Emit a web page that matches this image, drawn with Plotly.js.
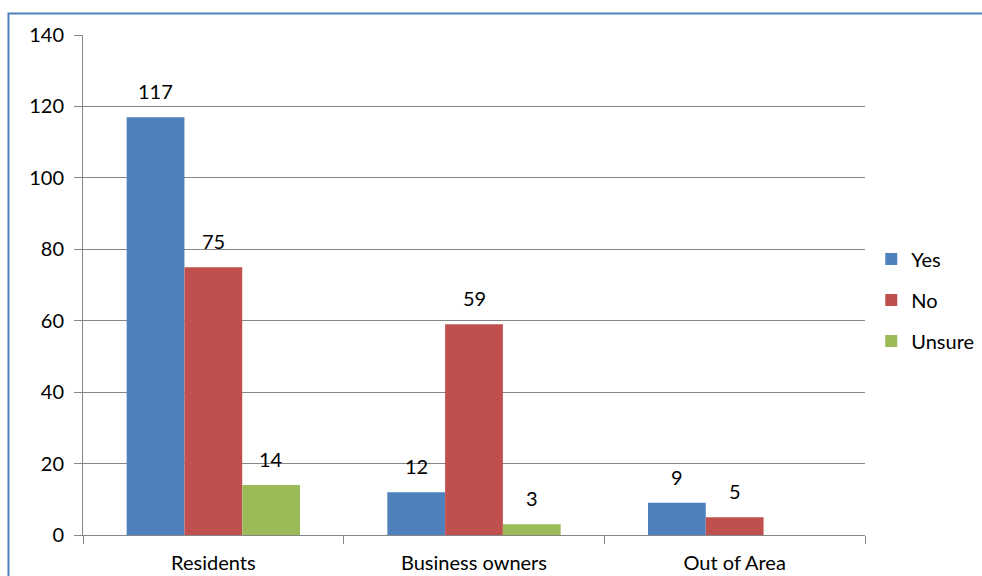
<!DOCTYPE html>
<html><head><meta charset="utf-8">
<script src="https://cdn.plot.ly/plotly-3.0.1.min.js"></script>
<style>html,body{margin:0;padding:0;background:#fff}#chart{width:982px;height:576px}</style>
</head><body><div id="chart"></div>
<script>
const categories = ["Residents", "Business owners", "Out of Area"];
const yesValues = [117, 12, 9];
const noValues = [75, 59, 5];
const unsureValues = [14, 3, null];
const seriesNames = ["Yes", "No", "Unsure"];
const seriesColors = ["#4F81BD", "#C0504D", "#9BBB59"];
const yTicks = [0, 20, 40, 60, 80, 100, 120, 140];

const font = "Lato, 'Open Sans', sans-serif";
const fs = 20;
const bargap = 0.335;
const allValues = [yesValues, noValues, unsureValues];
const traces = allValues.map((vals, i) => ({
  type: "bar",
  x: categories,
  y: vals,
  name: seriesNames[i],
  legendgroup: "g" + i,
  marker: {color: seriesColors[i]},
  hoverinfo: "none"
}));

const layout = {
  width: 982, height: 576,
  margin: {l: 83, r: 117, t: 35, b: 41, autoexpand: false},
  paper_bgcolor: "#fff", plot_bgcolor: "#fff",
  barmode: "group",
  bargap: bargap, bargroupgap: 0,
  font: {family: font, size: fs, color: "#000"},
  xaxis: {
    tickson: "boundaries", ticks: "outside", ticklen: 8, tickcolor: "#868686",
    showline: true, linecolor: "#868686", linewidth: 1,
    showgrid: false, tickfont: {family: font, size: fs, color: "#000"},
    ticklabelstandoff: 10,
    fixedrange: true
  },
  yaxis: {
    range: [0, 140], tickvals: yTicks, ticks: "outside", ticklen: 8, tickcolor: "#868686",
    showline: true, linecolor: "#868686", linewidth: 1,
    showgrid: true, gridcolor: "#868686", gridwidth: 1, zeroline: false,
    ticklabelstandoff: 6,
    tickfont: {family: font, size: fs, color: "#000"}, fixedrange: true
  },
  legend: {
    x: 1.008, xanchor: "left", y: 0.47, yanchor: "middle",
    font: {family: font, size: fs, color: "#000"},
    tracegroupgap: 12, itemwidth: 30, traceorder: "grouped"
  },
  shapes: [{
    type: "rect", xref: "paper", yref: "paper",
    x0: -0.0953, x1: 1.3, y0: -0.2, y1: 1.043,
    line: {color: "#4F81BD", width: 2}, fillcolor: "rgba(0,0,0,0)", layer: "below"
  }]
};
const gd = document.getElementById("chart");
Plotly.newPlot(gd, traces, layout, {displayModeBar: false, staticPlot: true}).then(() => {
  const plotW = gd._fullLayout.xaxis._length;
  const barW = plotW / categories.length * (1 - bargap) / allValues.length;
  const annotations = [];
  allValues.forEach((vals, i) => {
    vals.forEach((v, j) => {
      if (v == null) return;
      annotations.push({
        x: categories[j], y: v, xref: "x", yref: "y",
        text: String(v), showarrow: false, yanchor: "bottom",
        xshift: (i - (allValues.length - 1) / 2) * barW, yshift: 12,
        font: {family: font, size: fs, color: "#000"}
      });
    });
  });
  return Plotly.relayout(gd, {annotations: annotations});
});
</script></body></html>
